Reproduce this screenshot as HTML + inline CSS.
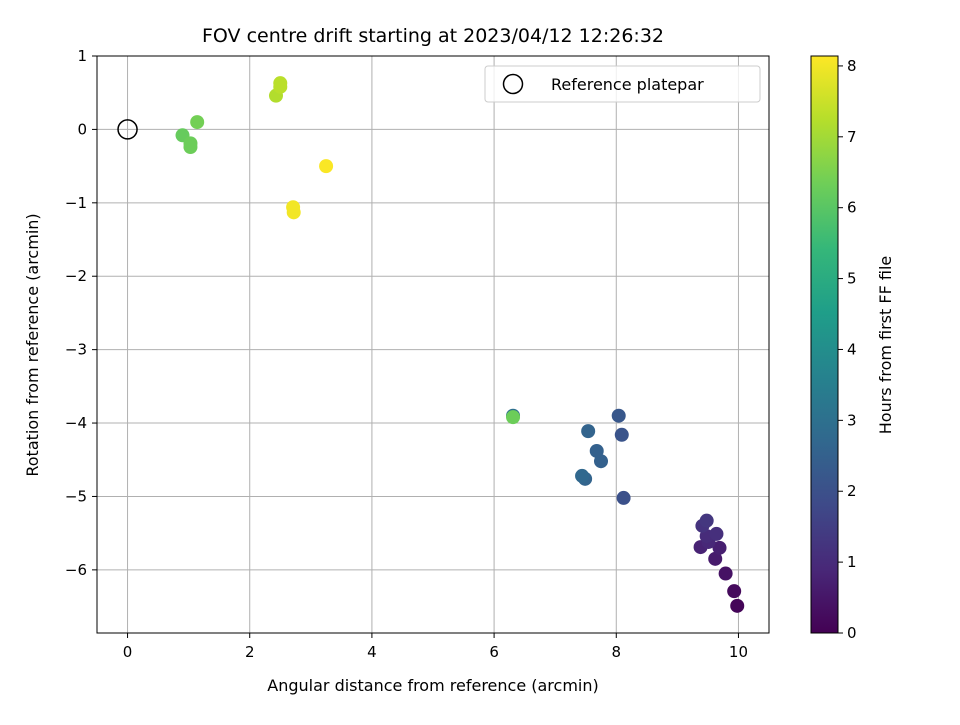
<!DOCTYPE html>
<html><head><meta charset="utf-8"><style>body{margin:0;background:#fff}svg{font-family:"DejaVu Sans","Liberation Sans",sans-serif}</style></head>
<body>
<svg id="c" width="960" height="720" xmlns="http://www.w3.org/2000/svg"></svg>
<script>
const xs=[9.98,9.93,9.79,9.62,9.69,9.38,9.51,9.48,9.64,9.41,9.48,8.12,7.49,7.44,7.75,7.68,7.54,8.09,8.04,6.31,6.31,0.90,1.03,1.03,1.14,2.43,2.50,2.50,2.72,2.71,3.25];
const ys=[-6.49,-6.29,-6.05,-5.85,-5.70,-5.69,-5.62,-5.54,-5.51,-5.40,-5.33,-5.02,-4.76,-4.72,-4.52,-4.38,-4.11,-4.16,-3.90,-3.90,-3.92,-0.08,-0.19,-0.24,0.10,0.46,0.58,0.63,-1.13,-1.06,-0.50];
const hours=[0.1,0.2,0.4,0.6,0.7,0.8,0.9,1.0,1.1,1.2,1.3,2.0,2.6,2.7,2.5,2.5,2.6,2.1,2.2,3.0,6.3,6.2,6.3,6.3,6.4,7.2,7.3,7.3,8.0,8.0,8.1];
const xTicks=[0,2,4,6,8,10], yTicks=[1,0,-1,-2,-3,-4,-5,-6], cTicks=[0,1,2,3,4,5,6,7,8];
const L=97,R=769,T=56,B=633, X0=-0.5,X1=10.5,Y0=-6.86,Y1=1, C0=0,C1=8.14;
const sx=v=>L+(v-X0)/(X1-X0)*(R-L), sy=v=>B-(v-Y0)/(Y1-Y0)*(B-T), sc=v=>B-(v-C0)/(C1-C0)*(B-T);
const vir=[[68,1,84],[72,40,120],[62,74,137],[49,104,142],[38,130,142],[31,158,137],[53,183,121],[110,206,88],[181,222,43],[253,231,37]];
function col(h){let t=Math.max(0,Math.min(1,h/C1))*9,i=Math.min(8,Math.floor(t)),f=t-i,a=vir[i],b=vir[i+1];return `rgb(${a.map((v,k)=>Math.round(v+(b[k]-v)*f)).join(',')})`;}
const s=document.getElementById('c'),NS='http://www.w3.org/2000/svg';
function el(t,a,txt){const e=document.createElementNS(NS,t);for(const k in a)e.setAttribute(k,a[k]);if(txt!==undefined)e.textContent=txt;s.appendChild(e);return e;}
let e;
xTicks.forEach(v=>{e=el('line',{x1:sx(v),x2:sx(v),y1:T,y2:B,stroke:'#b0b0b0','stroke-width':1});
e=el('line',{x1:sx(v),x2:sx(v),y1:B,y2:B+5,stroke:'#000'});
e=el('text',{x:sx(v),y:B+24,'text-anchor':'middle','font-size':15},v);});
yTicks.forEach(v=>{e=el('line',{x1:L,x2:R,y1:sy(v),y2:sy(v),stroke:'#b0b0b0','stroke-width':1});
e=el('line',{x1:L-5,x2:L,y1:sy(v),y2:sy(v),stroke:'#000'});
e=el('text',{x:L-10,y:sy(v)+5,'text-anchor':'end','font-size':15},v<0?'\u2212'+(-v):v);});
xs.forEach((x,i)=>{e=el('circle',{cx:sx(x),cy:sy(ys[i]),r:7,fill:col(hours[i])});});
e=el('circle',{cx:sx(0),cy:sy(0),r:9.5,fill:'none',stroke:'#000','stroke-width':1.5});
e=el('rect',{x:L,y:T,width:R-L,height:B-T,fill:'none',stroke:'#000','stroke-width':1});
e=el('rect',{x:485,y:66,width:275,height:36,rx:3,fill:'#fff','fill-opacity':0.8,stroke:'#ccc'});
e=el('circle',{cx:513,cy:84,r:9.5,fill:'none',stroke:'#000','stroke-width':1.5});
e=el('text',{x:551,y:90,'font-size':16},'Reference platepar');
e=el('text',{x:433,y:42,'text-anchor':'middle','font-size':19},'FOV centre drift starting at 2023/04/12 12:26:32');
e=el('text',{x:433,y:691,'text-anchor':'middle','font-size':16},'Angular distance from reference (arcmin)');
e=el('text',{x:0,y:0,'text-anchor':'middle','font-size':16,transform:`translate(38,345) rotate(-90)`},'Rotation from reference (arcmin)');
const defs=el('defs',{});const g=document.createElementNS(NS,'linearGradient');g.setAttribute('id','vg');g.setAttribute('x1','0');g.setAttribute('y1','1');g.setAttribute('x2','0');g.setAttribute('y2','0');defs.appendChild(g);
vir.forEach((c,i)=>{const st=document.createElementNS(NS,'stop');st.setAttribute('offset',i/9);st.setAttribute('stop-color',`rgb(${c})`);g.appendChild(st);});
e=el('rect',{x:811,y:T,width:27,height:B-T,fill:'url(#vg)',stroke:'#000'});
cTicks.forEach(v=>{e=el('line',{x1:838,x2:843,y1:sc(v),y2:sc(v),stroke:'#000'});
e=el('text',{x:847,y:sc(v)+5,'font-size':15},v);});
e=el('text',{x:0,y:0,'text-anchor':'middle','font-size':16,transform:`translate(891,345) rotate(-90)`},'Hours from first FF file');
</script>
</body></html>
